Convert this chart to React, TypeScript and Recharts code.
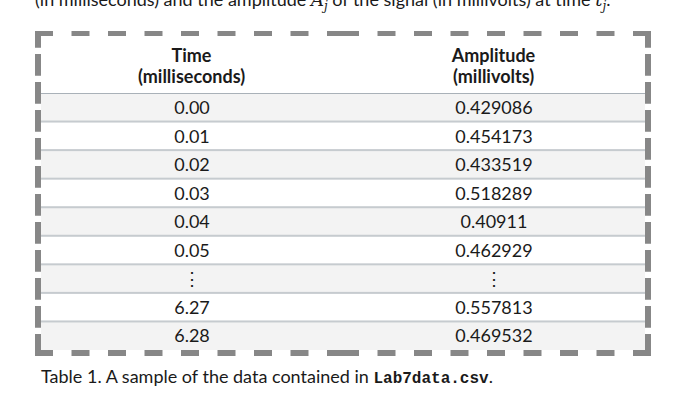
import { BarChart, Bar, XAxis, YAxis } from 'recharts';

// table contents
const times = ['0.00', '0.01', '0.02', '0.03', '0.04', '0.05', '⋮', '6.27', '6.28'];
const amplitudes = ['0.429086', '0.454173', '0.433519', '0.518289', '0.40911', '0.462929', '⋮', '0.557813', '0.469532'];
const headers = [['Time', '(milliseconds)'], ['Amplitude', '(millivolts)']];

const rows = times.map((t, i) => ({ time: t, amplitude: amplitudes[i], span: 1 }));

const FONT = 'Lato, "Noto Sans", sans-serif';
const DASH = '#878787';

function Row(props: any) {
  const { x, y, width, height, index, payload } = props;
  const fill = index % 2 === 0 ? '#f3f3f3' : '#ffffff';
  const mid = y + height / 2 + 6.5;
  return (
    <g>
      <rect x={x} y={y} width={width} height={height} fill={fill} />
      <rect x={x} y={y - 1} width={width} height={2} fill={index === 0 ? '#a9b1b8' : '#c6cbcf'} />
      <text x={x + width * 0.25} y={mid} textAnchor="middle" fontFamily={FONT} fontSize={18} fill="#1a1a1a">
        {payload.time}
      </text>
      <text x={x + width * 0.75} y={mid} textAnchor="middle" fontFamily={FONT} fontSize={18} fill="#1a1a1a">
        {payload.amplitude}
      </text>
    </g>
  );
}

export default function App() {
  return (
    <div style={{ position: 'absolute', left: 0, top: 0, width: 678, height: 400, overflow: 'hidden', background: '#fff' }}>
      <div style={{ position: 'absolute', left: 41, top: 93 }}>
        <BarChart
          width={604}
          height={257}
          data={rows}
          layout="vertical"
          margin={{ top: 0, right: 0, bottom: 0, left: 0 }}
          barCategoryGap={0}
        >
          <XAxis type="number" domain={[0, 1]} hide />
          <YAxis type="category" dataKey="time" hide />
          <Bar dataKey="span" isAnimationActive={false} shape={(p: any) => <Row {...p} />} />
        </BarChart>
      </div>

      <svg width={678} height={400} style={{ position: 'absolute', left: 0, top: 0, pointerEvents: 'none' }}>
        {/* cut-off line of the preceding paragraph */}
        <text x={35} y={6} fontFamily={FONT} fontSize={18} fill="#1a1a1a">
          (in milliseconds) and the amplitude{' '}
          <tspan fontFamily="'DejaVu Serif', serif" fontStyle="italic">A</tspan>
          <tspan fontSize={12} dy={4} fontFamily="'DejaVu Serif', serif" fontStyle="italic">j</tspan>
          <tspan dy={-4}> of the signal (in millivolts) at time </tspan>
          <tspan fontFamily="'DejaVu Serif', serif" fontStyle="italic">t</tspan>
          <tspan fontSize={12} dy={4} fontFamily="'DejaVu Serif', serif" fontStyle="italic">j</tspan>
          <tspan dy={-4}>.</tspan>
        </text>

        {/* dashed frame, dashes run from each corner toward the middle */}
        <line x1={35} y1={33.5} x2={343} y2={33.5} stroke={DASH} strokeWidth={5} strokeDasharray="18 18.5" />
        <line x1={651} y1={33.5} x2={343} y2={33.5} stroke={DASH} strokeWidth={5} strokeDasharray="18 18.5" />
        <line x1={35} y1={353} x2={343} y2={353} stroke={DASH} strokeWidth={6} strokeDasharray="18 18.5" />
        <line x1={651} y1={353} x2={343} y2={353} stroke={DASH} strokeWidth={6} strokeDasharray="18 18.5" />
        <line x1={38} y1={31} x2={38} y2={356} stroke={DASH} strokeWidth={6} strokeDasharray="21.7 6.3" strokeDashoffset={5} />
        <line x1={648} y1={31} x2={648} y2={356} stroke={DASH} strokeWidth={6} strokeDasharray="21.7 6.3" strokeDashoffset={5} />

        {headers.map((h, i) => (
          <text key={i} x={i === 0 ? 191.5 : 493.5} textAnchor="middle" fontFamily={FONT} fontSize={18} fontWeight={700} fill="#1a1a1a">
            <tspan x={i === 0 ? 191.5 : 493.5} y={62}>{h[0]}</tspan>
            <tspan x={i === 0 ? 191.5 : 493.5} y={83}>{h[1]}</tspan>
          </text>
        ))}

        <text x={41} y={383} fontFamily={FONT} fontSize={18} fill="#1a1a1a">
          Table 1. A sample of the data contained in{' '}
          <tspan fontFamily="'Liberation Mono', monospace" fontWeight={700} fontSize={16}>Lab7data.csv</tspan>.
        </text>
      </svg>
    </div>
  );
}
